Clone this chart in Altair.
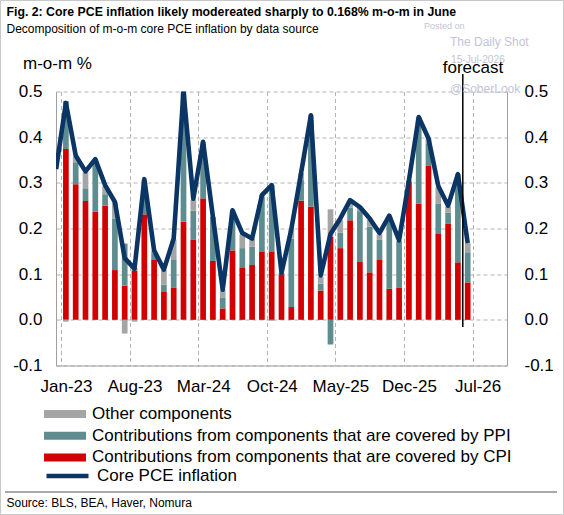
import altair as alt
import pandas as pd

# ---- data -------------------------------------------------------------
months = [d.strftime("%b-%y") for d in pd.date_range("2023-01-01", "2026-06-01", freq="MS")]

# contributions to m-o-m core PCE inflation, percentage points
cpi = [0.374, 0.297, 0.260, 0.237, 0.250, 0.109, 0.075, 0.108, 0.231, 0.131, 0.061, 0.071,
       0.215, 0.175, 0.266, 0.129, 0.025, 0.152, 0.115, 0.120, 0.150, 0.150, 0.100, 0.028,
       0.261, 0.248, 0.064, 0.182, 0.157, 0.218, 0.128, 0.104, 0.131, 0.068, 0.071, 0.302,
       0.254, 0.337, 0.188, 0.210, 0.126, 0.082]
ppi = [0.105, 0.048, 0.028, 0.110, 0.025, 0.113, 0.092, 0.006, 0.055, 0.015, 0.016, 0.060,
       0.280, 0.064, 0.120, 0.096, 0.023, 0.075, 0.042, 0.040, 0.120, 0.145, 0.003, 0.150,
       0.045, 0.190, 0.015, -0.054, 0.034, 0.028, 0.110, 0.100, 0.044, 0.155, 0.101, 0.003,
       0.180, 0.050, 0.067, 0.025, 0.190, 0.066]
other = [-0.004, 0.013, 0.035, 0.005, 0.018, 0.035, -0.030, -0.004, 0.020, 0.005, 0.032, 0.045,
         0.005, 0.024, 0.003, 0.000, 0.017, 0.012, 0.030, 0.017, 0.003, -0.002, 0.000, 0.020,
         0.015, 0.010, 0.015, 0.060, 0.027, 0.012, 0.008, 0.015, 0.012, 0.005, 0.000, 0.000,
         0.010, 0.010, 0.035, 0.013, 0.003, 0.020]
core = [0.475, 0.360, 0.325, 0.352, 0.295, 0.258, 0.135, 0.112, 0.308, 0.152, 0.110, 0.178,
        0.500, 0.265, 0.390, 0.226, 0.066, 0.240, 0.190, 0.178, 0.273, 0.295, 0.103, 0.198,
        0.322, 0.448, 0.097, 0.188, 0.222, 0.262, 0.247, 0.222, 0.190, 0.228, 0.174, 0.305,
        0.444, 0.397, 0.293, 0.250, 0.319, 0.168]
core_dec22 = 0.33  # prior month, the line enters from the left edge

bar_names = [
    "Other components",
    "Contributions from components that are covered by PPI",
    "Contributions from components that are covered by CPI",
]
bar_colors = ["#a5a5a5", "#5f8c8f", "#d20000"]
line_name = "Core PCE inflation"
line_color = "#0b3564"

tick_labels = ["Jan-23", "Aug-23", "Mar-24", "Oct-24", "May-25", "Dec-25", "Jul-26"]
tick_months = [0, 7, 14, 21, 28, 35, 42]
y_ticks = [-0.1, 0.0, 0.1, 0.2, 0.3, 0.4, 0.5]
forecast_month = 41  # first forecast month (Jun-26)

# ---- tables -----------------------------------------------------------
bar_rows = []
for i, m in enumerate(months):
    for rank, (name, vals) in enumerate(
        [(bar_names[2], cpi), (bar_names[1], ppi), (bar_names[0], other)]
    ):
        bar_rows.append({"month": m, "mid": i + 0.5, "series": name, "rank": rank, "value": vals[i]})
bars_df = pd.DataFrame(bar_rows)

line_df = pd.DataFrame(
    {"month": ["Dec-22"] + months,
     "mid": [-0.5] + [i + 0.5 for i in range(len(months))],
     "core": [core_dec22] + core,
     "series": line_name}
)

# ---- layout -----------------------------------------------------------
W, H = 451, 274          # plot area
OX, OY = 56, 91.5        # plot area origin on the page
FONT = "Liberation Sans"
LEG_X, LEG_Y, LEG_ROW = -12, 314, 20.7

x_scale = alt.Scale(domain=[0, 45], nice=False, zero=False)
y_scale = alt.Scale(domain=[-0.1, 0.5], nice=False, zero=False)
y_label = "datum.value < -0.001 ? '-' + format(-datum.value, '.1f') : format(abs(datum.value), '.1f')"
x_label = "[" + ",".join("'%s'" % t for t in tick_labels) + "][round(datum.value / 7)]"

x_enc = alt.X(
    "mid:Q", scale=x_scale, title=None,
    axis=alt.Axis(values=tick_months, labelExpr=x_label, labelOffset=5, labelPadding=13,
                  ticks=False, tickSize=0, grid=True, gridDash=[4, 3], gridColor="#b3b3b3",
                  domainColor="#a0a0a0", labelOverlap=False, labelFlush=False,
                  labelFont=FONT, labelFontSize=17, labelColor="#000"),
)

legend_common = dict(
    title=None, orient="none", direction="vertical", padding=0, symbolSize=1764,
    symbolOffset=0, labelOffset=6, clipHeight=17, rowPadding=LEG_ROW - 17,
    labelFont=FONT, labelFontSize=17, labelColor="#000", labelLimit=600, symbolOpacity=1,
)

bars = alt.Chart(bars_df).mark_bar(size=5.7).encode(
    x=x_enc,
    y=alt.Y("value:Q", stack="zero", scale=y_scale, title=None,
            axis=alt.Axis(orient="left", values=y_ticks, labelExpr=y_label, ticks=False, tickSize=0,
                          labelPadding=14, grid=True, gridDash=[4, 3], gridColor="#b3b3b3",
                          domainColor="#a0a0a0", labelFont=FONT, labelFontSize=17,
                          labelColor="#000")),
    color=alt.Color(
        "series:N",
        scale=alt.Scale(domain=bar_names, range=bar_colors),
        legend=alt.Legend(legendX=LEG_X, legendY=LEG_Y, symbolType="M-1,-0.19H1V0.19H-1Z",
                          symbolStrokeWidth=0, **legend_common),
    ),
    order=alt.Order("rank:Q"),
)

line = alt.Chart(line_df).mark_line(
    strokeWidth=4.6, strokeJoin="round", strokeCap="butt", clip=True
).encode(
    x=alt.X("mid:Q", scale=x_scale),
    y=alt.Y("core:Q", scale=y_scale,
            axis=alt.Axis(orient="right", values=y_ticks, labelExpr=y_label, ticks=False,
                          tickSize=0, labelPadding=17, grid=False, domainColor="#a0a0a0",
                          labelFont=FONT, labelFontSize=17, labelColor="#000", title=None)),
    stroke=alt.Stroke(
        "series:N",
        scale=alt.Scale(domain=[line_name], range=[line_color]),
        legend=alt.Legend(legendX=LEG_X, legendY=LEG_Y + 3 * LEG_ROW, symbolType="M-1,0H1",
                          symbolStrokeWidth=4.5, **legend_common),
    ),
)

# vertical marker where the forecast begins
forecast_rule = alt.Chart(pd.DataFrame({"mid": [forecast_month]})).mark_rule(
    color="#000", strokeWidth=1.5
).encode(x=alt.X("mid:Q", scale=x_scale), y=alt.value(74 - OY), y2=alt.value(327 - OY))

one = pd.DataFrame({"k": [0]})


def label(text, x, y, size, align="left", weight="normal", color="#000"):
    return alt.Chart(one).mark_text(
        text=text, align=align, baseline="middle", font=FONT, fontSize=size,
        fontWeight=weight, color=color,
    ).encode(x=alt.value(x - OX), y=alt.value(y - OY))


texts = [
    label("Posted on", 424, 26, 9, color="#c3c3d9"),
    label("The Daily Shot", 450, 42, 12, color="#c3c3d9"),
    label("15-Jul-2026", 451, 60, 10.2, color="#c3c3d9"),
    label("@SoberLook", 450, 89, 12, color="#c3c3d9"),
    label("Fig. 2: Core PCE inflation likely modereated sharply to 0.168% m-o-m in June",
          6.5, 12, 12.3, weight="bold"),
    label("Decomposition of m-o-m core PCE inflation by data source", 6.5, 29, 12),
    label("m-o-m %", 23, 64, 17),
    label("forecast", 473, 68, 17, align="center"),
    label("Source: BLS, BEA, Haver, Nomura", 6.5, 503, 12),
]

separator = alt.Chart(one).mark_rule(color="#555555", strokeWidth=1).encode(
    x=alt.value(5 - OX), x2=alt.value(557 - OX), y=alt.value(492 - OY)
)
border = alt.Chart(one).mark_rect(fill=None, stroke="#c8c8c8", strokeWidth=1).encode(
    x=alt.value(0.5 - OX), x2=alt.value(563.5 - OX), y=alt.value(0.5 - OY), y2=alt.value(514.5 - OY)
)

chart = alt.layer(bars, line, forecast_rule, separator, border, *texts).resolve_axis(
    y="independent"
).properties(
    width=W, height=H, autosize="none",
    padding={"left": OX, "top": OY, "right": 564 - OX - W, "bottom": 515 - OY - H},
    background="white",
).configure_view(stroke=None)

chart.save("out.html", embed_options={"renderer": "svg", "actions": False})
